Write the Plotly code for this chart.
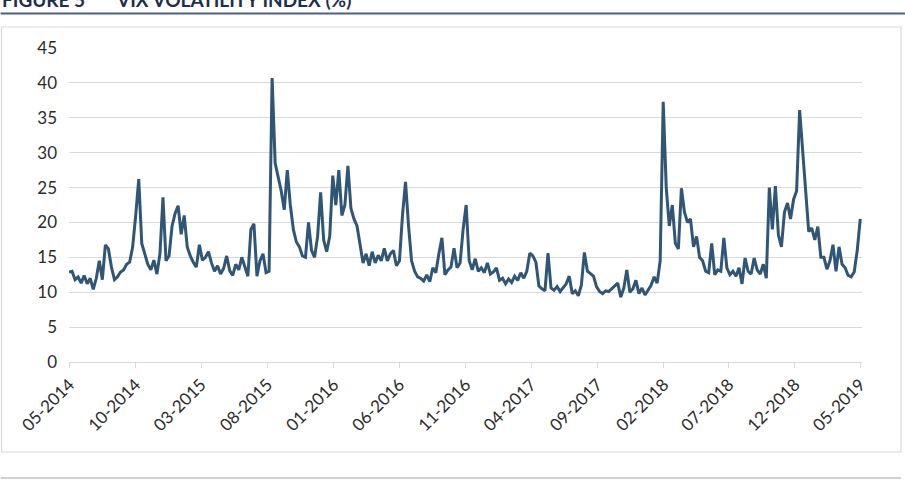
import pandas as pd
import plotly.graph_objects as go

# ---- data (weekly readings of the VIX close, %) ----
start_date = "2014-05-12"
n_weeks = 262
vix = [
    12.9, 13.0, 11.8, 12.2, 11.3, 12.4, 11.2, 12.0, 10.4, 12.0,
    14.5, 11.8, 16.8, 16.2, 13.6, 11.8, 12.2, 12.9, 13.2, 14.0,
    14.3, 16.5, 21.0, 26.2, 17.0, 15.3, 14.0, 13.2, 14.6, 12.6,
    15.5, 23.6, 14.5, 15.2, 19.5, 21.3, 22.4, 18.3, 21.0, 16.5,
    15.2, 14.3, 13.6, 16.8, 14.6, 15.0, 15.8, 14.2, 13.0, 13.8,
    12.6, 13.4, 15.2, 13.1, 12.4, 14.0, 13.2, 15.0, 13.5, 12.3,
    19.0, 19.8, 12.3, 14.5, 15.5, 12.8, 13.0, 40.7, 28.5, 26.5,
    24.5, 21.8, 27.5, 22.5, 19.0, 17.2, 16.5, 15.2, 15.0, 20.0,
    16.0, 15.0, 18.0, 24.3, 17.5, 15.8, 18.0, 26.7, 22.5, 27.5,
    21.0, 22.5, 28.1, 22.0, 20.5, 19.5, 16.5, 14.2, 15.5, 13.8,
    15.8, 14.2, 15.3, 14.5, 16.3, 14.5, 15.5, 16.0, 13.8, 14.5,
    21.0, 25.8, 19.5, 14.5, 13.0, 12.2, 12.0, 11.6, 12.5, 11.5,
    13.5, 12.8, 15.5, 17.8, 12.5, 13.2, 13.6, 16.3, 13.5, 14.2,
    19.0, 22.5, 14.5, 13.2, 14.8, 13.0, 13.5, 12.8, 14.2, 12.6,
    12.9, 13.5, 11.7, 12.0, 11.2, 11.9, 11.4, 12.3, 11.7, 12.8,
    12.0, 13.0, 15.6, 15.2, 14.3, 10.9, 10.5, 10.2, 15.6, 10.6,
    10.3, 10.8, 10.1, 10.7, 11.2, 12.3, 9.8, 10.2, 9.5, 11.0,
    15.7, 13.0, 12.6, 12.3, 10.8, 10.1, 9.8, 10.2, 10.1, 10.5,
    10.8, 11.3, 9.3, 10.6, 13.2, 10.0, 10.5, 11.7, 9.8, 10.6,
    9.6, 10.4, 11.0, 12.2, 11.3, 14.5, 37.3, 25.0, 19.5, 22.5,
    17.0, 16.2, 24.9, 21.5, 20.0, 20.5, 16.5, 18.0, 15.0, 14.5,
    13.0, 12.8, 17.0, 12.5, 13.2, 13.0, 17.8, 13.5, 12.5, 13.0,
    12.3, 13.5, 11.2, 14.9, 13.0, 12.6, 14.9, 13.2, 12.6, 14.0,
    12.0, 25.0, 19.0, 25.2, 18.2, 16.5, 21.5, 22.8, 20.5, 23.3,
    24.5, 36.1, 30.5, 25.0, 18.7, 19.2, 17.5, 19.4, 15.0, 15.0,
    13.3, 14.5, 16.8, 13.0, 16.5, 14.0, 13.5, 12.4, 12.2, 12.9, 16.0, 20.5,
]
dates = pd.date_range(start_date, periods=n_weeks, freq="7D")

tick_dates = ["2014-05-13", "2014-10-13", "2015-03-13", "2015-08-13", "2016-01-13",
              "2016-06-13", "2016-11-13", "2017-04-13", "2017-09-13", "2018-02-13",
              "2018-07-13", "2018-12-13", "2019-05-13"]
tick_labels = ["05-2014", "10-2014", "03-2015", "08-2015", "01-2016", "06-2016",
               "11-2016", "04-2017", "09-2017", "02-2018", "07-2018", "12-2018", "05-2019"]

title_num = "FIGURE 5"
title_text = "VIX VOLATILITY INDEX (%)"

# ---- layout geometry (pixels) ----
W, H = 905, 482
L, R, T, B = 68.5, 862.0, 48.0, 362.0


def px_x(px):
    return (px - L) / (R - L)


def px_y(py):
    return (B - py) / (B - T)


FONT = "Lato, 'Open Sans', sans-serif"
GRID = "#d9d9d9"
TXT = "#2b2b2b"

fig = go.Figure()
fig.add_trace(go.Scatter(
    x=dates, y=vix, mode="lines",
    line=dict(color="#2f5677", width=3),
    hoverinfo="skip", showlegend=False,
))

fig.update_layout(
    width=W, height=H,
    margin=dict(l=L, r=W - R, t=T, b=H - B, pad=0),
    paper_bgcolor="white", plot_bgcolor="white",
    font=dict(family=FONT, size=17, color=TXT),
    xaxis=dict(
        type="date", range=["2014-05-12", "2019-05-17"],
        tickmode="array", tickvals=tick_dates, ticktext=tick_labels,
        tickangle=-45, showgrid=False, zeroline=False,
        showline=True, linecolor=GRID, linewidth=1,
        ticks="outside", ticklen=5, tickcolor=GRID, tickwidth=1,
        tickfont=dict(family=FONT, size=17, color=TXT),
    ),
    yaxis=dict(
        range=[0, 45], dtick=5, tick0=0,
        showgrid=True, gridcolor=GRID, gridwidth=1,
        zeroline=False, showline=False, ticks="",
        ticklabelstandoff=11,
        tickfont=dict(family=FONT, size=17, color=TXT),
    ),
    shapes=[
        dict(type="rect", xref="paper", yref="paper",
             x0=px_x(1), x1=px_x(901), y0=px_y(452), y1=px_y(27),
             line=dict(color="#d9d9d9", width=1.2), layer="below"),
        dict(type="line", xref="paper", yref="paper",
             x0=px_x(0), x1=px_x(905), y0=px_y(13.5), y1=px_y(13.5),
             line=dict(color="#4b6282", width=2)),
        dict(type="line", xref="paper", yref="paper",
             x0=px_x(0), x1=px_x(901), y0=px_y(478), y1=px_y(478),
             line=dict(color="#d0d0d0", width=2)),
    ],
    annotations=[
        dict(text="<b>" + title_num + "</b>", xref="paper", yref="paper",
             x=px_x(-1), y=px_y(12.5), xanchor="left", yanchor="bottom",
             showarrow=False, font=dict(family=FONT, size=19, color="#1d2f4d")),
        dict(text="<b>" + title_text + "</b>", xref="paper", yref="paper",
             x=px_x(114), y=px_y(12.5), xanchor="left", yanchor="bottom",
             showarrow=False, font=dict(family=FONT, size=19, color="#1d2f4d")),
    ],
)

fig.write_html("out.html")
